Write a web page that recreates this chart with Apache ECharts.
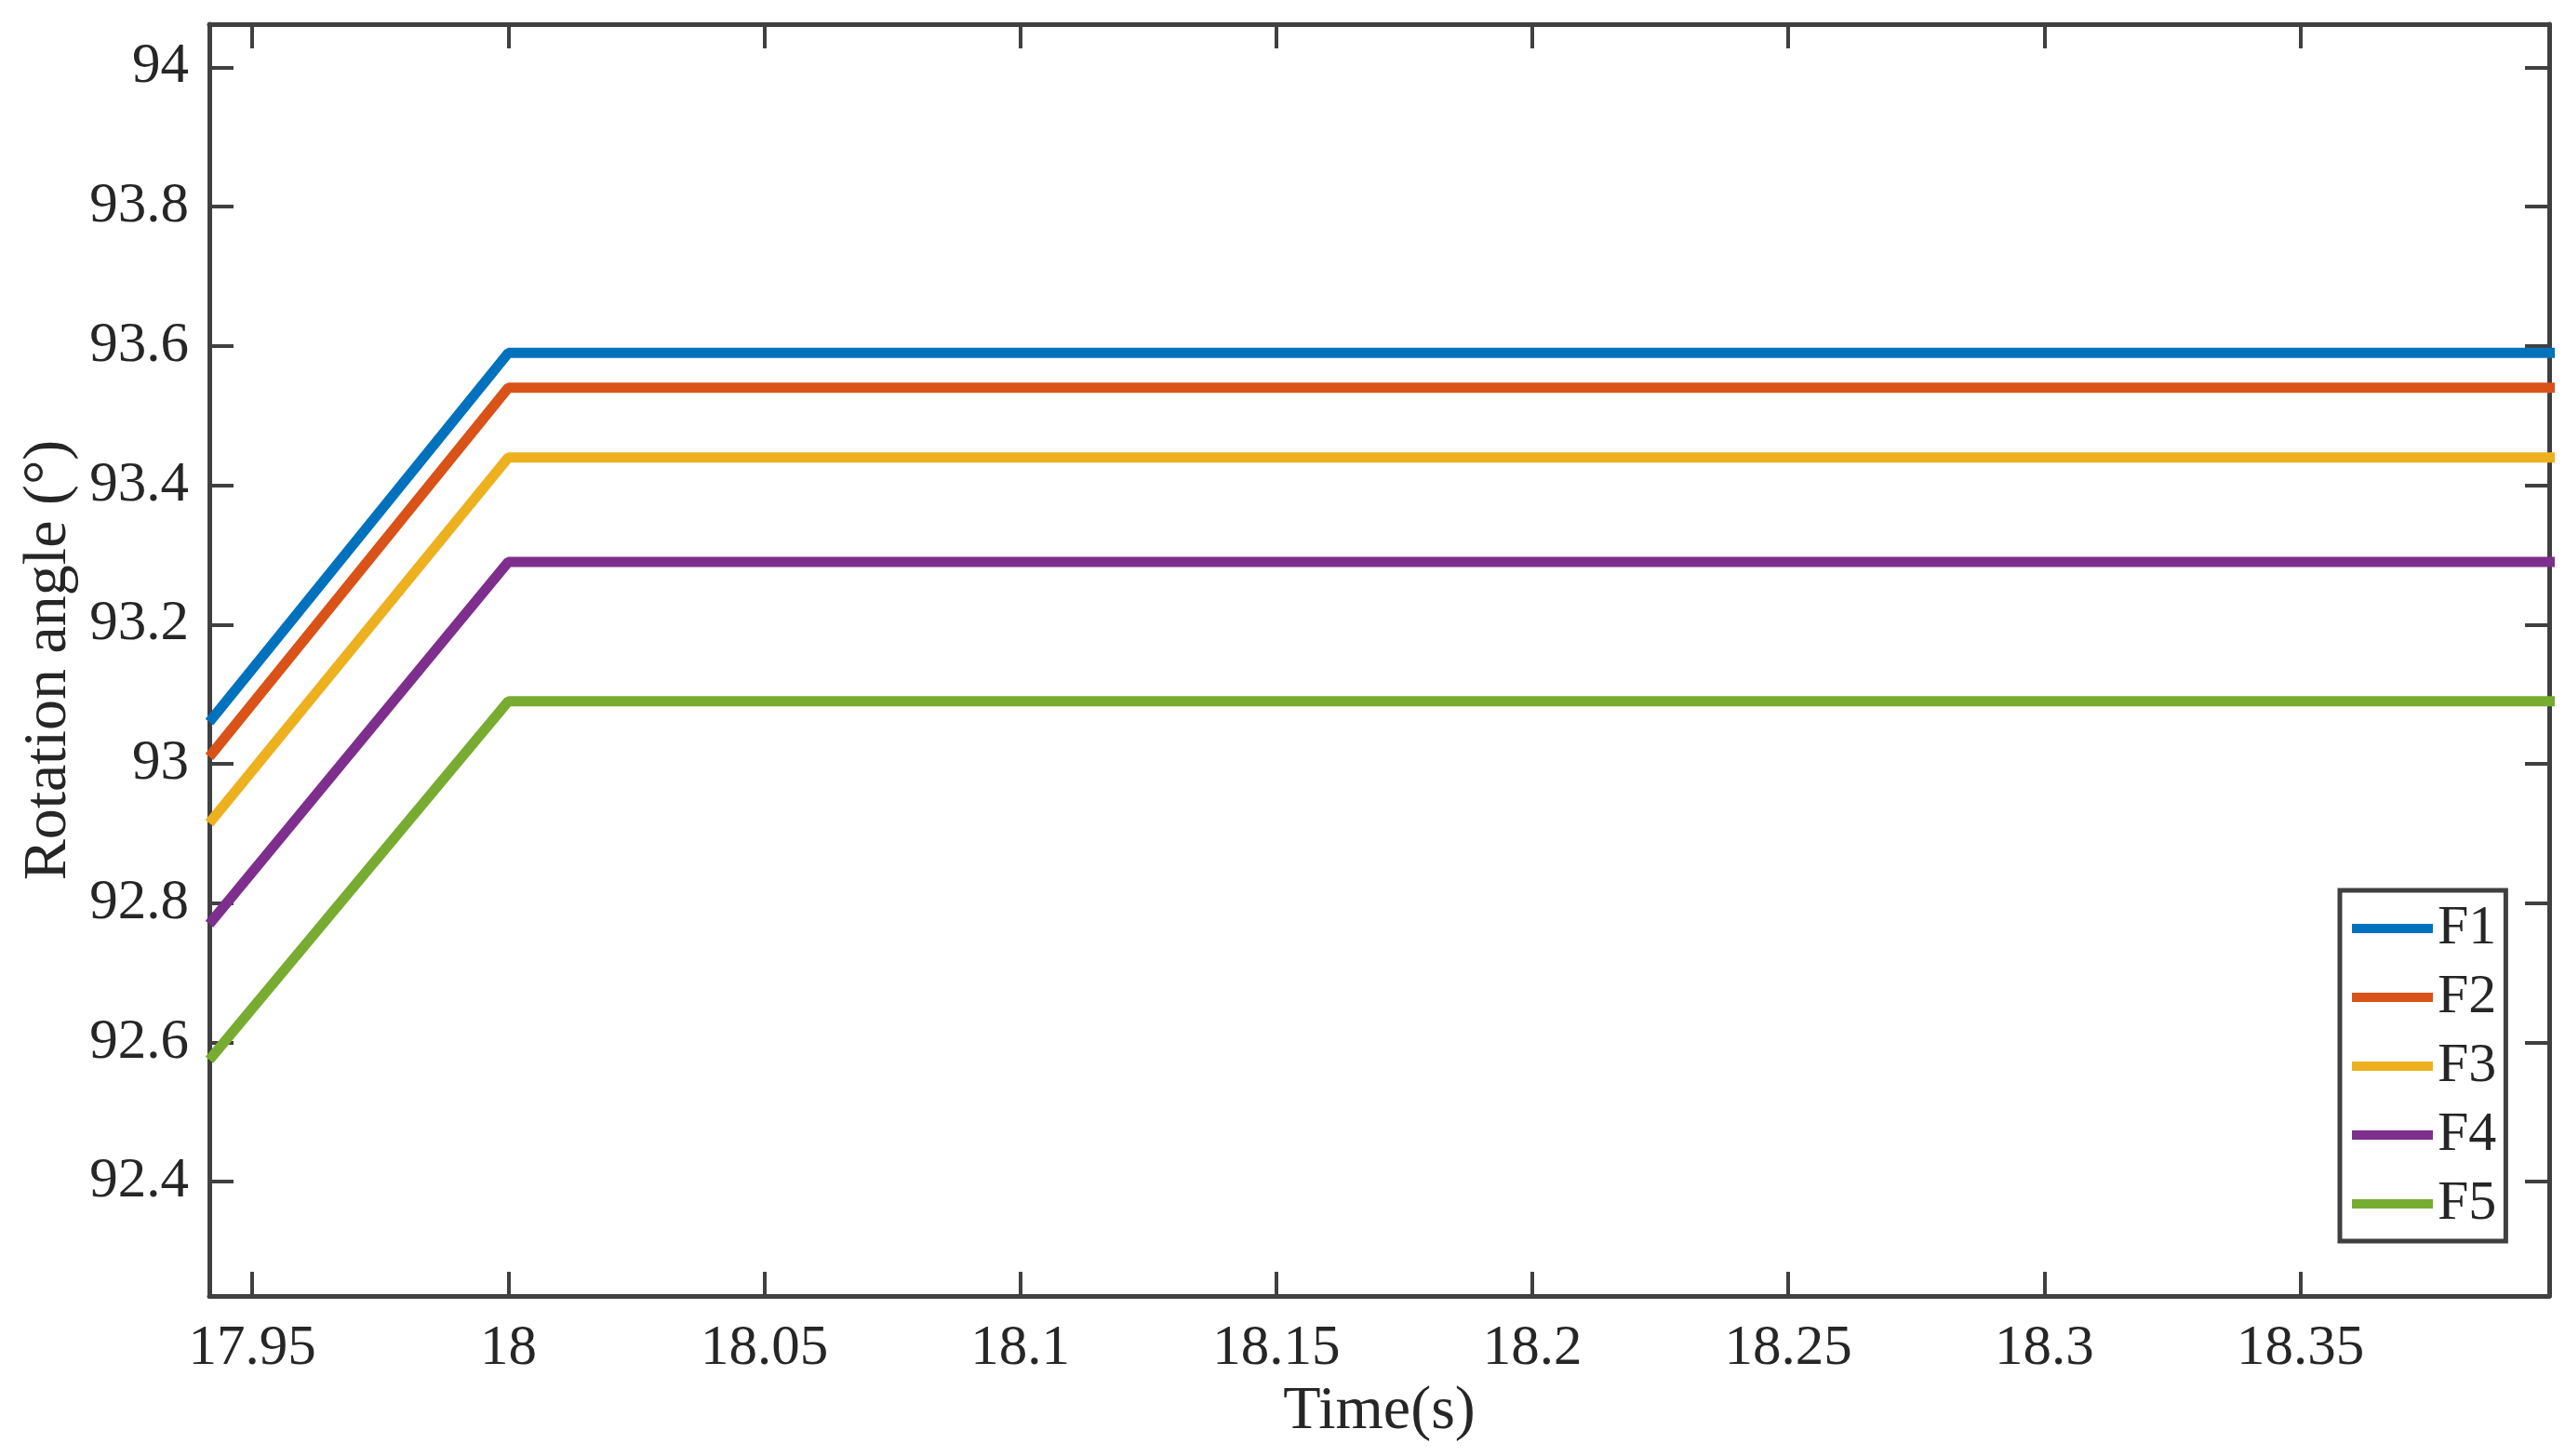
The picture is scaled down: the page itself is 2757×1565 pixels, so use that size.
<!DOCTYPE html>
<html>
<head>
<meta charset="utf-8">
<title>Rotation angle</title>
<script src="https://cdn.jsdelivr.net/npm/echarts@6/dist/echarts.min.js"></script>
<style>
  html, body { margin: 0; padding: 0; background: #fff; }
  #chart { width: 2757px; height: 1565px; }
</style>
</head>
<body>
<div id="chart"></div>
<script>
// data
var seriesNames = ['F1', 'F2', 'F3', 'F4', 'F5']
var timePoints = [17.9416, 18.0, 18.4]
var startAngles = [93.06, 93.01, 92.915, 92.77, 92.575]
var plateauAngles = [93.59, 93.54, 93.44, 93.29, 93.09]
var colorList = ['#0072BD', '#D95319', '#EDB120', '#7E2F8E', '#77AC30']

var xRange = [17.9416, 18.3986]
var yRange = [92.236, 94.062]

var font = 'Liberation Serif'
var ink = '#262626'
var axisColor = '#404040'

var myChart = echarts.init(document.getElementById('chart'))

var series = seriesNames.map(function(name, i) {
  return {
    name: name,
    type: 'line',
    xAxisIndex: 0,
    yAxisIndex: 0,
    symbol: 'none',
    lineStyle: { width: 11, color: colorList[i] },
    itemStyle: { color: colorList[i] },
    data: [
      [timePoints[0], startAngles[i]],
      [timePoints[1], plateauAngles[i]],
      [timePoints[2], plateauAngles[i]]
    ]
  }
})

function xAx(pos, labels) {
  return {
    type: 'value',
    position: pos,
    min: xRange[0],
    max: xRange[1],
    splitNumber: 9,
    splitLine: { show: false },
    axisLine: { show: true, onZero: false, lineStyle: { color: axisColor, width: 5 } },
    axisTick: { show: true, inside: true, length: 26, lineStyle: { color: axisColor, width: 4 } },
    axisLabel: {
      show: labels,
      showMinLabel: false,
      showMaxLabel: false,
      margin: 26,
      fontFamily: font,
      fontSize: 61,
      color: ink
    },
    name: labels ? 'Time(s)' : '',
    nameLocation: 'middle',
    nameGap: 88,
    nameTextStyle: { fontFamily: font, fontSize: 66, color: ink }
  }
}

function yAx(pos, labels) {
  return {
    type: 'value',
    position: pos,
    min: yRange[0],
    max: yRange[1],
    splitNumber: 9,
    splitLine: { show: false },
    axisLine: { show: true, onZero: false, lineStyle: { color: axisColor, width: 5 } },
    axisTick: { show: true, inside: true, length: 26, lineStyle: { color: axisColor, width: 4 } },
    axisLabel: {
      show: labels,
      showMinLabel: false,
      showMaxLabel: false,
      margin: 22,
      fontFamily: font,
      fontSize: 61,
      color: ink
    },
    name: labels ? 'Rotation angle (°)' : '',
    nameLocation: 'middle',
    nameGap: 134,
    nameTextStyle: { fontFamily: font, fontSize: 66, color: ink }
  }
}

var option = {
  animation: false,
  backgroundColor: '#fff',
  grid: { left: 225, right: 17, top: 26, bottom: 172, containLabel: false },
  legend: {
    orient: 'vertical',
    left: 2515,
    top: 957,
    padding: [11, 10, 10, 13],
    itemWidth: 87,
    itemHeight: 10,
    itemGap: 14,
    icon: 'rect',
    borderColor: axisColor,
    borderWidth: 5,
    backgroundColor: '#fff',
    textStyle: { fontFamily: font, fontSize: 60, lineHeight: 58, color: ink },
    data: seriesNames
  },
  xAxis: [xAx('bottom', true), xAx('top', false)],
  yAxis: [yAx('left', true), yAx('right', false)],
  series: series
}

myChart.setOption(option)
</script>
</body>
</html>
